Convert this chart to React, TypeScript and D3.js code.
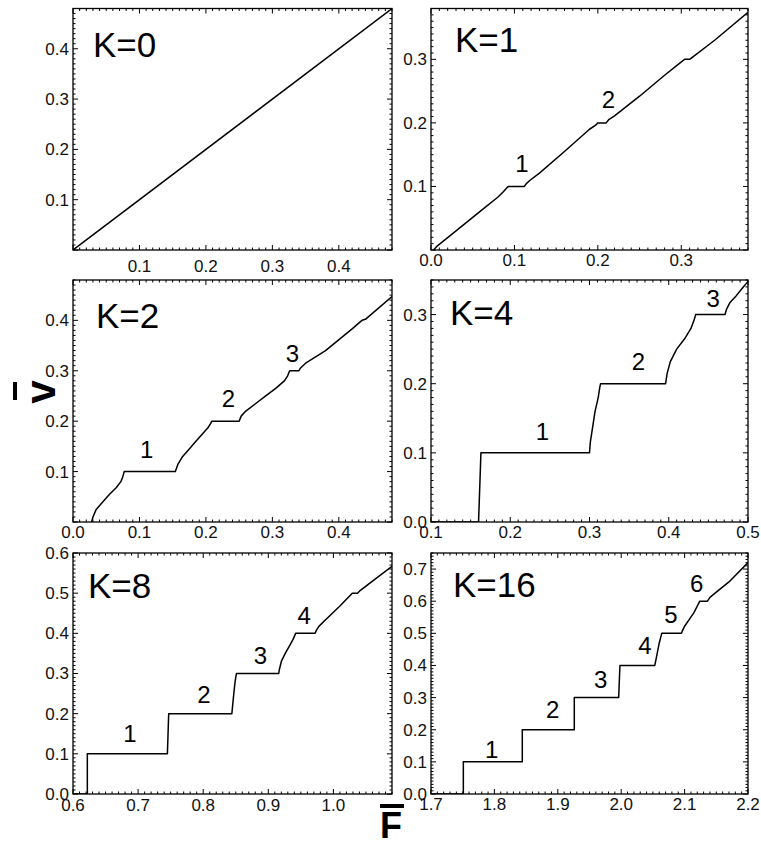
import React from "react";
import * as d3 from "d3";

// Coupling strengths, one panel each
const K_VALUES = [0, 1, 2, 4, 8, 16];

// Mean driving force F̄ and mean velocity v̄ for each K
const F_K0 = [0, 0.48];
const V_K0 = [0, 0.48];

const F_K1 = [0.003, 0.008, 0.03, 0.06, 0.08, 0.087, 0.091, 0.093, 0.112, 0.114, 0.118, 0.13, 0.16, 0.19, 0.197, 0.2, 0.21, 0.213, 0.22, 0.25, 0.28, 0.302, 0.304, 0.31, 0.312, 0.34, 0.38];
const V_K1 = [0, 0.007, 0.03, 0.062, 0.083, 0.092, 0.098, 0.1, 0.1, 0.104, 0.109, 0.121, 0.155, 0.19, 0.196, 0.2, 0.2, 0.205, 0.211, 0.242, 0.275, 0.298, 0.3, 0.3, 0.302, 0.33, 0.374];

const F_K2 = [0.028, 0.03, 0.035, 0.045, 0.055, 0.065, 0.072, 0.075, 0.077, 0.154, 0.158, 0.165, 0.175, 0.185, 0.195, 0.203, 0.207, 0.209, 0.25, 0.253, 0.26, 0.275, 0.29, 0.305, 0.318, 0.323, 0.326, 0.34, 0.342, 0.35, 0.38, 0.42, 0.433, 0.435, 0.44, 0.48];
const V_K2 = [0, 0.01, 0.025, 0.04, 0.055, 0.068, 0.08, 0.09, 0.1, 0.1, 0.115, 0.13, 0.145, 0.16, 0.175, 0.187, 0.195, 0.2, 0.2, 0.21, 0.22, 0.235, 0.25, 0.265, 0.28, 0.29, 0.3, 0.3, 0.305, 0.315, 0.34, 0.383, 0.398, 0.4, 0.402, 0.447];

const F_K4 = [0.1, 0.16, 0.1615, 0.163, 0.3, 0.301, 0.303, 0.307, 0.311, 0.313, 0.314, 0.396, 0.398, 0.402, 0.41, 0.42, 0.428, 0.432, 0.434, 0.471, 0.473, 0.477, 0.485, 0.492, 0.5];
const V_K4 = [0, 0, 0.05, 0.1, 0.1, 0.115, 0.13, 0.16, 0.18, 0.195, 0.2, 0.2, 0.215, 0.232, 0.25, 0.265, 0.28, 0.292, 0.3, 0.3, 0.308, 0.317, 0.327, 0.337, 0.348];

const F_K8 = [0.6, 0.622, 0.622, 0.745, 0.747, 0.844, 0.847, 0.849, 0.851, 0.916, 0.917, 0.92, 0.926, 0.933, 0.938, 0.942, 0.972, 0.974, 0.978, 0.99, 1.01, 1.029, 1.037, 1.04, 1.06, 1.09];
const V_K8 = [0, 0, 0.1, 0.1, 0.2, 0.2, 0.25, 0.28, 0.3, 0.3, 0.31, 0.33, 0.35, 0.37, 0.385, 0.4, 0.4, 0.408, 0.418, 0.437, 0.468, 0.5, 0.5, 0.505, 0.53, 0.567];

const F_K16 = [1.7, 1.751, 1.751, 1.844, 1.844, 1.926, 1.926, 1.996, 1.998, 2.053, 2.055, 2.057, 2.06, 2.064, 2.095, 2.097, 2.1, 2.108, 2.115, 2.12, 2.124, 2.136, 2.14, 2.15, 2.17, 2.2];
const V_K16 = [0, 0, 0.1, 0.1, 0.2, 0.2, 0.3, 0.3, 0.4, 0.4, 0.42, 0.44, 0.47, 0.5, 0.5, 0.51, 0.522, 0.545, 0.565, 0.585, 0.6, 0.6, 0.612, 0.628, 0.66, 0.72];

const F_SERIES = [F_K0, F_K1, F_K2, F_K4, F_K8, F_K16];
const V_SERIES = [V_K0, V_K1, V_K2, V_K4, V_K8, V_K16];

// Axis extents
const X_DOMAINS = [[0, 0.48], [0, 0.38], [0, 0.48], [0.1, 0.5], [0.6, 1.09], [1.7, 2.2]];
const Y_DOMAINS = [[0, 0.48], [0, 0.38], [0, 0.48], [0, 0.35], [0, 0.6], [0, 0.75]];

// Labelled ticks
const X_TICK_LABELS = [
  [0.1, 0.2, 0.3, 0.4],
  [0.0, 0.1, 0.2, 0.3],
  [0.0, 0.1, 0.2, 0.3, 0.4],
  [0.1, 0.2, 0.3, 0.4, 0.5],
  [0.6, 0.7, 0.8, 0.9, 1.0],
  [1.7, 1.8, 1.9, 2.0, 2.1, 2.2],
];
const Y_TICK_LABELS = [
  [0.1, 0.2, 0.3, 0.4],
  [0.1, 0.2, 0.3],
  [0.1, 0.2, 0.3, 0.4],
  [0.0, 0.1, 0.2, 0.3],
  [0.0, 0.1, 0.2, 0.3, 0.4, 0.5, 0.6],
  [0.0, 0.1, 0.2, 0.3, 0.4, 0.5, 0.6, 0.7],
];

// Plateau numbers and where they are written (data units, baseline)
const STEP_NUMBERS = [[], [1, 2], [1, 2, 3], [1, 2, 3], [1, 2, 3, 4], [1, 2, 3, 4, 5, 6]];
const STEP_LABEL_F = [[], [0.109, 0.2126], [0.111, 0.2337, 0.33], [0.2405, 0.3616, 0.456], [0.6876, 0.801, 0.888, 0.955], [1.7957, 1.892, 1.9677, 2.0375, 2.0785, 2.119]];
const STEP_LABEL_V = [[], [0.123, 0.2235], [0.126, 0.229, 0.318], [0.1187, 0.22, 0.3107], [0.13, 0.226, 0.324, 0.422], [0.111, 0.2375, 0.329, 0.4348, 0.531, 0.63]];

// Layout
const W = 761;
const H = 846;
const COLS = [[73, 392], [431, 748]];
const ROWS = [[8.5, 250], [280, 522], [553, 794]];
const K_LABEL_OFFSET = [[20, 48], [24, 43], [23, 48], [19, 45], [15, 45], [22, 44]];
const X_LABEL_GAP = [22, 16, 16, 16, 17, 16];
const FONT = "'Liberation Sans', Arial, Helvetica, sans-serif";
const fmt = d3.format(".1f");

function Panel({ i }: { i: number }) {
  const [x0, x1] = COLS[i % 2];
  const [y0, y1] = ROWS[Math.floor(i / 2)];
  const x = d3.scaleLinear().domain(X_DOMAINS[i]).range([x0, x1]);
  const y = d3.scaleLinear().domain(Y_DOMAINS[i]).range([y1, y0]);

  const pts: [number, number][] = F_SERIES[i].map((f, j) => [f, V_SERIES[i][j]]);
  const line = d3
    .line<[number, number]>()
    .x((d) => x(d[0]))
    .y((d) => y(d[1]))
    .curve(d3.curveLinear);

  const ticksFor = (dom: number[]) => {
    const lo = Math.ceil(dom[0] * 100 - 1e-6);
    const hi = Math.floor(dom[1] * 100 + 1e-6);
    return d3.range(lo, hi + 1).map((n) => ({ v: n / 100, major: n % 10 === 0 }));
  };
  const xt = ticksFor(X_DOMAINS[i]);
  const yt = ticksFor(Y_DOMAINS[i]);
  const MAJ = 5;
  const MIN = 2.5;
  const clipId = `clip-${i}`;

  return (
    <g>
      <defs>
        <clipPath id={clipId}>
          <rect x={x0} y={y0 - 1} width={x1 - x0} height={y1 - y0 + 1} />
        </clipPath>
      </defs>
      {/* inward ticks on all four sides */}
      <g stroke="#000" strokeWidth={1}>
        {xt.map((t, j) => {
          const px = x(t.v);
          const len = t.major ? MAJ : MIN;
          return (
            <g key={`xt${j}`}>
              <line x1={px} x2={px} y1={y1} y2={y1 - len} />
              <line x1={px} x2={px} y1={y0} y2={y0 + len} />
            </g>
          );
        })}
        {yt.map((t, j) => {
          const py = y(t.v);
          const len = t.major ? MAJ : MIN;
          return (
            <g key={`yt${j}`}>
              <line x1={x0} x2={x0 + len} y1={py} y2={py} />
              <line x1={x1} x2={x1 - len} y1={py} y2={py} />
            </g>
          );
        })}
      </g>
      <path
        d={line(pts) || ""}
        fill="none"
        stroke="#000"
        strokeWidth={1.5}
        strokeLinejoin="round"
        clipPath={`url(#${clipId})`}
      />
      <rect x={x0} y={y0} width={x1 - x0} height={y1 - y0} fill="none" stroke="#000" strokeWidth={1.3} />
      <g fontFamily={FONT} fontSize={17} fill="#111">
        {X_TICK_LABELS[i].map((t) => (
          <text key={`xl${t}`} x={x(t)} y={y1 + X_LABEL_GAP[i]} textAnchor="middle">
            {fmt(t)}
          </text>
        ))}
        {Y_TICK_LABELS[i].map((t) => (
          <text key={`yl${t}`} x={x0 - 4} y={y(t)} dy="0.35em" textAnchor="end">
            {fmt(t)}
          </text>
        ))}
      </g>
      <text
        x={x0 + K_LABEL_OFFSET[i][0]}
        y={y0 + K_LABEL_OFFSET[i][1]}
        fontFamily={FONT}
        fontSize={35}
        fill="#000"
      >
        {`K=${K_VALUES[i]}`}
      </text>
      <g fontFamily={FONT} fontSize={24} fill="#000" textAnchor="middle">
        {STEP_NUMBERS[i].map((n, j) => (
          <text key={`s${n}`} x={x(STEP_LABEL_F[i][j])} y={y(STEP_LABEL_V[i][j])}>
            {n}
          </text>
        ))}
      </g>
    </g>
  );
}

export default function App() {
  return (
    <svg
      width={W}
      height={H}
      viewBox={`0 0 ${W} ${H}`}
      style={{ position: "absolute", left: 0, top: 0, background: "#fff" }}
    >
      <rect width={W} height={H} fill="#fff" />
      {K_VALUES.map((_, i) => (
        <Panel key={i} i={i} />
      ))}
      {/* v̄ axis title */}
      <rect x={13} y={382} width={4} height={18} fill="#000" />
      <text
        transform="translate(55,392) rotate(-90)"
        textAnchor="middle"
        fontFamily={FONT}
        fontWeight="bold"
        fontSize={42}
        fill="#000"
      >
        v
      </text>
      {/* F̄ axis title */}
      <rect x={380} y={804} width={24} height={4} fill="#000" />
      <text x={380} y={838} fontFamily={FONT} fontWeight="bold" fontSize={36} fill="#000">
        F
      </text>
    </svg>
  );
}
